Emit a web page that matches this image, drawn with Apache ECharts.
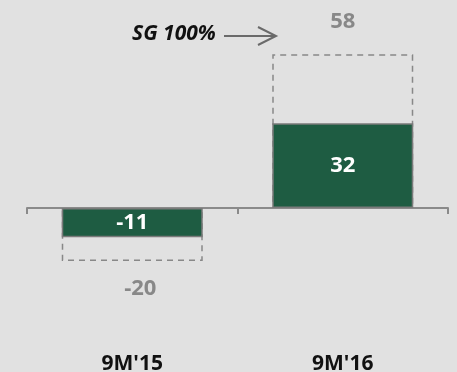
<!DOCTYPE html>
<html>
<head>
<meta charset="utf-8">
<script src="https://cdn.jsdelivr.net/npm/echarts@6/dist/echarts.min.js"></script>
<style>
  html, body { margin: 0; padding: 0; background: #e1e1e1; }
  #chart { width: 457px; height: 372px; }
</style>
</head>
<body>
<div id="chart"></div>
<script>
// Periods on the x axis
const categories = ["9M'15", "9M'16"];
// Reported result (solid green bars)
const reported = [-11, 32];
// Result at 100% stake (dashed outline bars)
const fullStake = [-20, 58];

const FONT = '"Open Sans", "Noto Sans", sans-serif';
const GREEN = '#1e5c42';
const GREY = '#888888';

const chart = echarts.init(document.getElementById('chart'), null, { renderer: 'canvas' });

chart.setOption({
  backgroundColor: '#e1e1e1',
  animation: false,
  grid: { left: 27, right: 9, top: 49, height: 265, outerBoundsMode: 'none', containLabel: false },
  xAxis: [
    {
      // zero line with category separators
      type: 'category',
      data: categories,
      axisLine: { onZero: true, lineStyle: { color: '#8a8a8a', width: 2 } },
      axisTick: { show: true, length: 6, lineStyle: { color: '#8a8a8a', width: 2 } },
      axisLabel: { show: false }
    },
    {
      // period names along the bottom
      type: 'category',
      data: categories,
      position: 'bottom',
      axisLine: { show: false, onZero: false },
      axisTick: { show: false },
      axisLabel: {
        margin: 40,
        color: '#111',
        fontFamily: FONT,
        fontWeight: 'bold',
        fontSize: 21
      }
    }
  ],
  yAxis: {
    type: 'value',
    min: -40,
    max: 60,
    show: false,
    splitLine: { show: false }
  },
  series: [
    {
      name: 'SG 100%',
      type: 'bar',
      xAxisIndex: 0,
      barWidth: 141,
      barGap: '-100%',
      z: 1,
      data: fullStake.map((v) => ({
        value: v,
        label: v < 0
          ? { position: 'bottom', distance: 17, offset: [8, 0] }
          : { position: 'top', distance: 22 }
      })),
      itemStyle: {
        color: 'rgba(0,0,0,0)',
        borderColor: GREY,
        borderWidth: 1.5,
        borderType: [6, 5]
      },
      label: {
        show: true,
        color: GREY,
        fontFamily: FONT,
        fontWeight: 'bold',
        fontSize: 22
      }
    },
    {
      name: 'Reported',
      type: 'bar',
      xAxisIndex: 0,
      barWidth: 141,
      z: 2,
      data: reported,
      itemStyle: {
        color: GREEN,
        borderColor: '#7a7a7a',
        borderWidth: 1.5
      },
      label: {
        show: true,
        position: 'inside',
        color: '#ffffff',
        fontFamily: FONT,
        fontWeight: 'bold',
        fontSize: 22
      }
    }
  ],
  graphic: [
    {
      type: 'text',
      left: 132,
      top: 24,
      style: {
        text: 'SG 100%',
        fill: '#111',
        font: 'italic bold 21px ' + FONT
      }
    },
    {
      type: 'polyline',
      shape: { points: [[224, 36], [276, 36]] },
      style: { stroke: '#6a6a6a', lineWidth: 2 }
    },
    {
      type: 'polyline',
      shape: { points: [[258, 27], [276, 36], [258, 45]] },
      style: { stroke: '#6a6a6a', lineWidth: 2, fill: null }
    }
  ]
});
</script>
</body>
</html>
